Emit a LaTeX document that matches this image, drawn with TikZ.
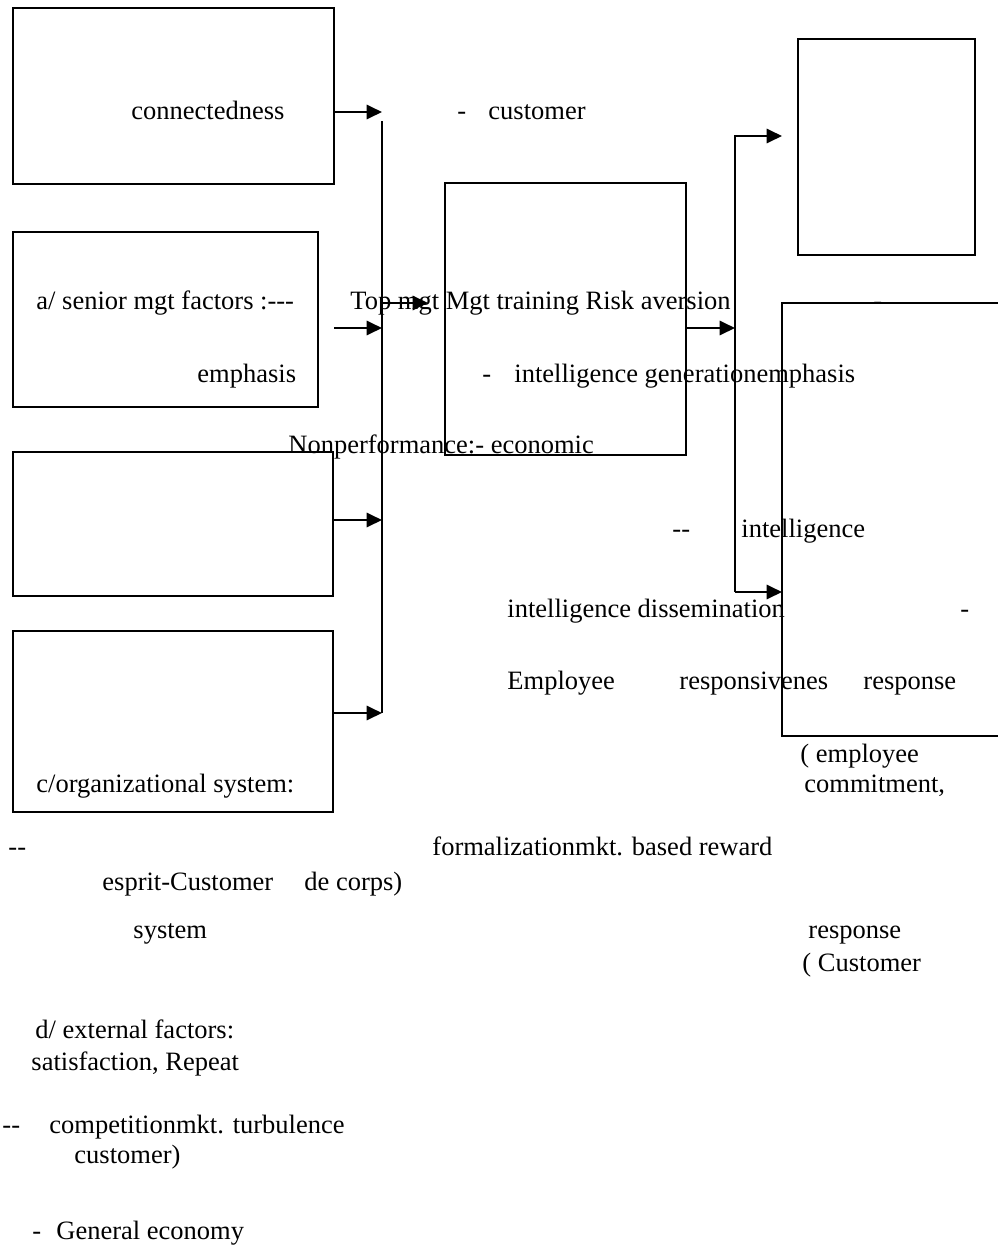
\documentclass[tikz,border=0pt]{standalone}
\usepackage{fontspec}
\setmainfont{Liberation Serif}
\usetikzlibrary{arrows.meta}
\newcommand\px{0.4528pt}

\begin{document}
\begin{tikzpicture}[x=\px,y=-\px,line join=miter,>={Triangle[length=7pt,width=6.5pt]},
	box/.style={draw,line width=1pt,rectangle,inner sep=0pt,outer sep=0pt,anchor=north west},
	txt/.style={anchor=base west,inner sep=0pt,font=\fontsize{12pt}{14pt}\selectfont},
	arr/.style={->,line width=1pt}]
	\useasboundingbox (0,0) rectangle (998,1247);
	% boxes
	\node[box,minimum width=321*\px,minimum height=176*\px] (connbox) at (13,8) {};
	\node[box,minimum width=305*\px,minimum height=175*\px] (seniorbox) at (13,232) {};
	\node[box,minimum width=320*\px,minimum height=144*\px] (interbox) at (13,452) {};
	\node[box,minimum width=320*\px,minimum height=181*\px] (orgbox) at (13,631) {};
	\node[box,minimum width=241*\px,minimum height=272*\px] (orientbox) at (445,183) {};
	\node[box,minimum width=177*\px,minimum height=216*\px] (empbox) at (798,39) {};
	\node[box,minimum width=230*\px,minimum height=433*\px] (custbox) at (782,303) {};
	% left bus
	\coordinate (busTop) at (382,121);
	\coordinate (busBot) at (382,713);
	\coordinate (inA) at (382,112);
	\coordinate (inB) at (382,328);
	\coordinate (inC) at (382,520);
	\coordinate (inD) at (382,713);
	\foreach \c in {inA,inB,inC,inD}
	\draw[arr] (connbox.east |- \c) -- (\c);
	\draw[line width=1pt] (busTop) -- (busBot);
	\coordinate (inMid) at (428,303);
	\draw[arr] (busTop |- inMid) -- (inMid);
	% right bus
	\coordinate (rbusTop) at (735,136);
	\coordinate (rbusBot) at (735,592);
	\coordinate (outMid) at (735,328);
	\coordinate (inEmp) at (782,136);
	\draw[arr] (orientbox.east |- outMid) -- (outMid);
	\draw[arr] (rbusBot) -- (rbusTop) -- (inEmp);
	\draw[arr] (rbusBot) -- (custbox.west |- rbusBot);
	% texts
	\node[txt] (connected) at (131,119) {connectedness};
	\node[txt] (dashcust) at (457,119) {-};
	\node[txt] (cust) at (488,119) {customer};
	\node[txt] (senior) at (36,309) {a/ senior mgt factors :-{}-{}-};
	\node[txt] (topmgt) at (350,309) {Top mgt Mgt training Risk aversion};
	\node[txt] (dashtop) at (873,309) {-};
	\node[txt] (emph) at (197,382) {emphasis};
	\node[txt] (dashgen) at (482,382) {-};
	\node[txt] (intgen) at (514,382) {intelligence generationemphasis};
	\node[txt] (nonperf) at (288,453) {Nonperformance:- economic};
	\node[txt] (dashint) at (672,537) {-{}-};
	\node[txt] (intel) at (741,537) {intelligence};
	\node[txt] (intdis) at (507,617) {intelligence dissemination};
	\node[txt] (dashdis) at (960,617) {-};
	\node[txt] (employee) at (507,689) {Employee};
	\node[txt] (respons) at (679,689) {responsivenes};
	\node[txt] (respA) at (863,689) {response};
	\node[txt] (empcom) at (800,762) {( employee};
	\node[txt] (commit) at (804,792) {commitment,};
	\node[txt] (orgsys) at (36,792) {c/organizational system:};
	\node[txt] (dashform) at (8,855) {-{}-};
	\node[txt] (formal) at (432,855) {formalizationmkt. based reward};
	\node[txt] (esprit) at (102,890) {esprit-Customer};
	\node[txt] (corps) at (304,890) {de corps)};
	\node[txt] (system) at (133,938) {system};
	\node[txt] (respB) at (808,938) {response};
	\node[txt] (custsat) at (802,971) {( Customer};
	\node[txt] (external) at (35,1038) {d/ external factors:};
	\node[txt] (satis) at (31,1070) {satisfaction, Repeat};
	\node[txt] (dashcomp) at (2,1133) {-{}-};
	\node[txt] (compet) at (49,1133) {competitionmkt. turbulence};
	\node[txt] (custend) at (74,1163) {customer)};
	\node[txt] (dashecon) at (32,1239) {-};
	\node[txt] (econ) at (56,1239) {General economy};
\end{tikzpicture}
\end{document}
